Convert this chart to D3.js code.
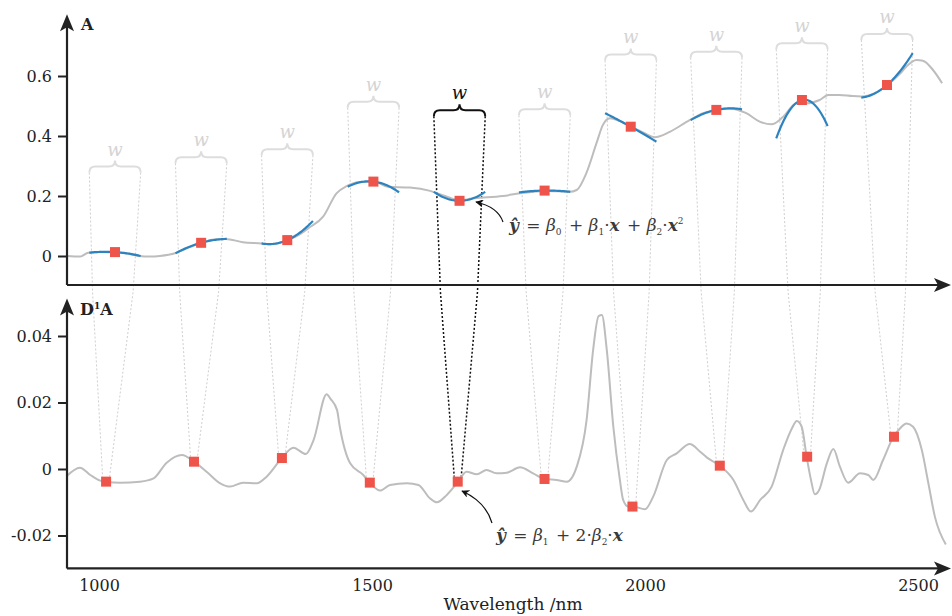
<!DOCTYPE html>
<html><head><meta charset="utf-8">
<script src="https://cdn.jsdelivr.net/npm/d3@7"></script>
<style>body{margin:0;background:#fff} svg{display:block}</style>
</head><body><svg id="c" width="952" height="616"></svg>
<script>
// ---------- data ----------
const topWl = [923,948,963,985,1013,1037,1058,1078,1097,1125,1149,1175,1198,1220,1252,1287,1303,1321,1336,1359,1374,1402,1427,1446,1471,1497,1523,1564,1602,1630,1658,1680,1695,1738,1770,1819,1863,1876,1894,1913,1925,1938,1956,1977,1999,2022,2050,2087,2115,2139,2162,2193,2218,2240,2262,2287,2305,2330,2346,2367,2392,2408,2433,2457,2480,2492,2511,2523,2542,2559];
const topA = [0.000,-0.002,0.011,0.013,0.012,0.008,0.000,-0.002,0.000,0.009,0.027,0.044,0.055,0.057,0.046,0.042,0.039,0.045,0.053,0.073,0.092,0.131,0.209,0.233,0.247,0.248,0.231,0.228,0.217,0.200,0.185,0.192,0.194,0.200,0.209,0.217,0.214,0.220,0.276,0.376,0.437,0.459,0.450,0.431,0.413,0.396,0.414,0.453,0.478,0.487,0.492,0.476,0.448,0.439,0.464,0.509,0.509,0.520,0.537,0.537,0.533,0.532,0.543,0.570,0.607,0.631,0.653,0.651,0.620,0.576];

const botWl = [941,965,984,1002,1013,1039,1075,1100,1124,1152,1174,1197,1222,1240,1264,1289,1307,1335,1356,1379,1393,1417,1424,1436,1441,1460,1484,1496,1515,1533,1564,1585,1606,1619,1637,1658,1673,1692,1710,1728,1747,1771,1795,1817,1838,1857,1875,1893,1905,1915,1921,1930,1942,1954,1960,1969,1978,2000,2015,2040,2058,2082,2101,2113,2137,2162,2180,2194,2211,2232,2253,2269,2278,2287,2296,2304,2311,2319,2333,2345,2357,2372,2394,2409,2418,2436,2455,2467,2479,2491,2507,2519,2531,2551];
const botD = [-0.0021,0.0004,-0.0018,-0.0035,-0.0038,-0.0041,-0.0038,-0.0028,0.0019,0.0042,0.0022,-0.0008,-0.0043,-0.0053,-0.0041,-0.0043,-0.0023,0.0033,0.0064,0.0045,0.0087,0.0225,0.0211,0.0177,0.0127,0.0017,-0.0018,-0.0041,-0.0065,-0.0048,-0.0043,-0.0048,-0.0088,-0.0100,-0.0078,-0.0038,-0.0008,-0.0016,-0.0003,-0.0013,-0.0011,0.0005,-0.0013,-0.0030,-0.0033,-0.0038,0.0007,0.0147,0.0358,0.0460,0.0463,0.0358,0.0127,-0.0033,-0.0093,-0.0113,-0.0113,-0.0121,-0.0083,0.0027,0.0047,0.0075,0.0052,0.0035,0.0010,-0.0033,-0.0093,-0.0128,-0.0093,-0.0053,0.0057,0.0122,0.0144,0.0127,0.0037,-0.0033,-0.0076,-0.0063,0.0017,0.0060,0.0007,-0.0041,-0.0013,-0.0018,-0.0033,0.0027,0.0097,0.0122,0.0137,0.0127,0.0057,-0.0043,-0.0144,-0.0227];

const windowCenters = [1013,1174,1335,1496,1657,1816,1977,2137,2297,2456];
const windowWidth = 96;
const fitLeft   = [0.011,0.009,0.042,0.231,0.214,0.212,0.476,0.453,0.392,0.528];
const fitCenter = [0.013,0.044,0.053,0.248,0.184,0.218,0.431,0.487,0.520,0.570];
const fitRight  = [0.000,0.057,0.117,0.212,0.214,0.214,0.381,0.489,0.433,0.676];
const braceLevel = [0.298,0.329,0.356,0.514,0.486,0.489,0.672,0.681,0.709,0.740];
const derivAtCenter = [-0.0038,0.0022,0.0033,-0.0041,-0.0038,-0.0030,-0.0113,0.0010,0.0037,0.0097];
const highlight = 4;

const topTicks = [0,0.2,0.4,0.6];
const topTickLabels = ["0","0.2","0.4","0.6"];
const botTicks = [-0.02,0,0.02,0.04];
const botTickLabels = ["-0.02","0","0.02","0.04"];
const xTicks = [1000,1500,2000,2500];
const xTickLabels = ["1000","1500","2000","2500"];

// ---------- scales ----------
const svg = d3.select("#c");
const FONT = "'DejaVu Serif', serif";
const xTop = d3.scaleLinear().domain([1013,2456]).range([115,887]);
const xBot = d3.scaleLinear().domain([1000,2000]).range([99,645]);
const yTop = d3.scaleLinear().domain([0,0.6]).range([256,76]);
const yBot = d3.scaleLinear().domain([0,0.02]).range([469,402.5]);

const axX0 = xBot(941.4), axX1 = xBot(2560.4);
const topY0 = yTop(-0.0967), topY1 = yTop(0.806);
const botY0 = yBot(-0.0299), botY1 = yBot(0.0513);
const kinkY = (topY0 + botY1) / 2;

const GRAY = "#bdbdbd", BLUE = "#2c83c0", RED = "#ee5449", INK = "#222";

// ---------- connecting dotted lines ----------
const gLines = svg.append("g");
windowCenters.forEach((c,i) => {
  const hl = i === highlight;
  const yb = yTop(braceLevel[i]) + 6;
  const yt = yBot(derivAtCenter[i]) - 5;
  [[c - windowWidth/2, -3.5],[c + windowWidth/2, 3.5]].forEach(([e,off]) => {
    const xe = xTop(e), xt = xBot(c) + off;
    const a = (kinkY - yb) / (2*(yt - kinkY));
    const xk = (xe + a*xt)/(1+a);
    gLines.append("path")
      .attr("d", `M${xe},${yb}L${xk},${kinkY}L${xt},${yt}`)
      .attr("fill","none")
      .attr("stroke", hl ? "#111" : "#cfcfcf")
      .attr("stroke-width", hl ? 1.5 : 1)
      .attr("stroke-dasharray", "2,2");
  });
});

// ---------- braces ----------
windowCenters.forEach((c,i) => {
  const hl = i === highlight;
  const x0 = xTop(c - windowWidth/2), x1 = xTop(c + windowWidth/2), xm = (x0+x1)/2;
  const yb = yTop(braceLevel[i]);
  const r = 6;
  const d = `M${x0},${yb+r}Q${x0},${yb} ${x0+r},${yb}L${xm-r},${yb}Q${xm},${yb} ${xm},${yb-r}` +
            `Q${xm},${yb} ${xm+r},${yb}L${x1-r},${yb}Q${x1},${yb} ${x1},${yb+r}`;
  svg.append("path").attr("d", d).attr("fill","none")
    .attr("stroke", hl ? "#111" : "#dddddd").attr("stroke-width", 2);
  svg.append("text").attr("x", xm).attr("y", yb - 11)
    .attr("text-anchor","middle").attr("font-family", FONT).attr("font-style","italic")
    .attr("font-size", 18).attr("fill", hl ? "#111" : "#d4d4d4").text("w");
});

// ---------- top curve & fits ----------
const lineTop = d3.line().x(i => xTop(topWl[i])).y(i => yTop(topA[i])).curve(d3.curveMonotoneX);
svg.append("path").attr("d", lineTop(d3.range(topWl.length)))
  .attr("fill","none").attr("stroke", GRAY).attr("stroke-width", 2);

windowCenters.forEach((c,i) => {
  const cc = fitCenter[i], b = (fitRight[i]-fitLeft[i])/2, a = (fitRight[i]+fitLeft[i])/2 - cc;
  const ts = d3.range(-1, 1.0001, 0.05);
  const ln = d3.line().x(t => xTop(c + t*windowWidth/2)).y(t => yTop(cc + b*t + a*t*t));
  svg.append("path").attr("d", ln(ts)).attr("fill","none").attr("stroke", BLUE).attr("stroke-width", 2.2);
});
svg.append("g").selectAll("rect").data(windowCenters).join("rect")
  .attr("x", (c) => xTop(c) - 5).attr("y", (c,i) => yTop(fitCenter[i]) - 5)
  .attr("width", 10).attr("height", 10).attr("fill", RED);

// ---------- bottom curve ----------
const lineBot = d3.line().x(i => xBot(botWl[i])).y(i => yBot(botD[i])).curve(d3.curveMonotoneX);
svg.append("path").attr("d", lineBot(d3.range(botWl.length)))
  .attr("fill","none").attr("stroke", GRAY).attr("stroke-width", 2);
svg.append("g").selectAll("rect").data(windowCenters).join("rect")
  .attr("x", (c) => xBot(c) - 5).attr("y", (c,i) => yBot(derivAtCenter[i]) - 5)
  .attr("width", 10).attr("height", 10).attr("fill", RED);

// ---------- axes ----------
function styleAxis(g){
  g.select(".domain").remove();
  g.selectAll("line").attr("stroke", INK).attr("stroke-width", 2);
  g.selectAll("text").attr("font-family", FONT).attr("font-size", 16).attr("fill", INK);
}
svg.append("g").attr("transform", `translate(${axX0},0)`)
  .call(d3.axisLeft(yTop).tickValues(topTicks).tickFormat((d,i)=>topTickLabels[i]).tickSize(9).tickPadding(6))
  .call(styleAxis);
svg.append("g").attr("transform", `translate(${axX0},0)`)
  .call(d3.axisLeft(yBot).tickValues(botTicks).tickFormat((d,i)=>botTickLabels[i]).tickSize(9).tickPadding(6))
  .call(styleAxis);
svg.append("g").attr("transform", `translate(0,${botY0})`)
  .call(d3.axisBottom(xBot).tickValues(xTicks).tickFormat((d,i)=>xTickLabels[i]).tickSize(0).tickPadding(11.5))
  .call(styleAxis);

function axisLine(x1,y1,x2,y2){
  svg.append("line").attr("x1",x1).attr("y1",y1).attr("x2",x2).attr("y2",y2)
    .attr("stroke", INK).attr("stroke-width", 2.2);
}
axisLine(axX0, topY0, axX0, topY1 + 8);
axisLine(axX0, topY0, axX1 - 8, topY0);
axisLine(axX0, botY0, axX0, botY1 + 8);
axisLine(axX0, botY0, axX1 - 8, botY0);
function arrowUp(x,y){
  svg.append("path").attr("d", `M${x},${y}L${x+7},${y+17}L${x},${y+13}L${x-7},${y+17}Z`).attr("fill", INK);
}
function arrowRight(x,y){
  svg.append("path").attr("d", `M${x},${y}L${x-17},${y+7}L${x-13},${y}L${x-17},${y-7}Z`).attr("fill", INK);
}
arrowUp(axX0, topY1); arrowUp(axX0, botY1);
arrowRight(axX1, topY0); arrowRight(axX1, botY0);

// axis titles
svg.append("text").attr("x", 81).attr("y", 30).attr("font-family", FONT).attr("font-weight","bold")
  .attr("font-size", 16).attr("fill", INK).text("A");
const dt = svg.append("text").attr("x", 80).attr("y", 315).attr("font-family", FONT).attr("font-weight","bold")
  .attr("font-size", 16).attr("fill", INK);
dt.append("tspan").text("D");
dt.append("tspan").attr("font-size", 9).attr("dy", -6).text("1");
dt.append("tspan").attr("dy", 6).text("A");
svg.append("text").attr("x", 513).attr("y", 610).attr("text-anchor","middle").attr("font-family", FONT)
  .attr("font-size", 17).attr("fill", INK).text("Wavelength /nm");

// ---------- equations ----------
function equation(x, y, parts){
  const t = svg.append("text").attr("x", x).attr("y", y).attr("font-family", FONT)
    .attr("font-size", 17).attr("fill", "#3a3a3a");
  let cur = 0;
  parts.forEach(p => {
    const s = t.append("tspan").text(p.t);
    const want = p.sub ? 4 : (p.sup ? -7 : 0);
    if (want !== cur) { s.attr("dy", want - cur); cur = want; }
    if (p.dx) s.attr("dx", p.dx);
    if (p.sub || p.sup) s.attr("font-size", 9);
    if (p.b) s.attr("font-weight", "bold");
    if (p.i) s.attr("font-style", "italic");
  });
}
const B = (t)=>({t, b:true, i:true}), I = (t)=>({t, i:true}), N=(t,dx)=>({t, dx}), S=(t)=>({t, sub:true}), P=(t)=>({t, sup:true});
equation(509, 231, [B("ŷ"), N(" = ",2), I("β"), S("0"), N(" + ",2), I("β"), S("1"), N("·"), B("x"), N(" + ",2), I("β"), S("2"), N("·"), B("x"), P("2")]);
equation(496, 541, [B("ŷ"), N(" = ",2), I("β"), S("1"), N(" + 2·",2), I("β"), S("2"), N("·"), B("x")]);

// annotation arrows
const defs = svg.append("defs");
defs.append("marker").attr("id","ah").attr("viewBox","0 0 10 10").attr("refX",9).attr("refY",5)
  .attr("markerWidth",8).attr("markerHeight",8).attr("orient","auto-start-reverse").attr("markerUnits","userSpaceOnUse")
  .append("path").attr("d","M0,0L10,5L0,10L3,5Z").attr("fill","#111");
svg.append("path").attr("d","M503,222Q498,207 476,202").attr("fill","none").attr("stroke","#111")
  .attr("stroke-width",1.2).attr("marker-end","url(#ah)");
svg.append("path").attr("d","M492,523Q486,502 462,491").attr("fill","none").attr("stroke","#111")
  .attr("stroke-width",1.2).attr("marker-end","url(#ah)");
</script></body></html>
